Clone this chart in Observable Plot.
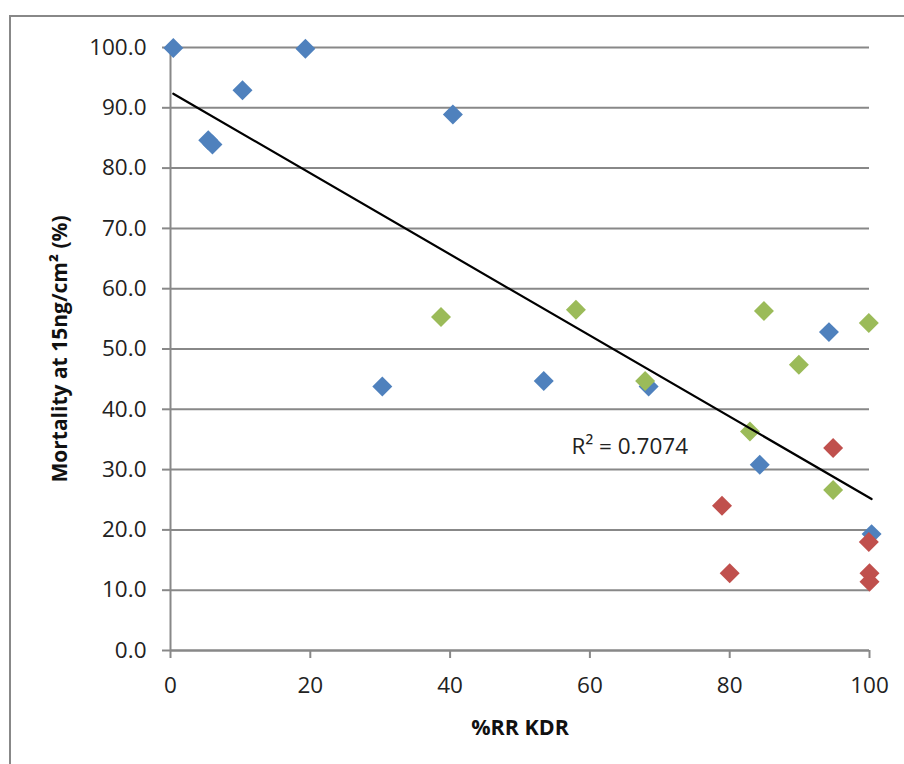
<!DOCTYPE html>
<html><head><meta charset="utf-8">
<script src="https://cdn.jsdelivr.net/npm/d3@7"></script>
<script src="https://cdn.jsdelivr.net/npm/@observablehq/plot@0.6"></script>
<style>
html,body{margin:0;padding:0;background:#fff;overflow:hidden;}
#wrap{position:relative;width:904px;height:764px;}
#chart{position:absolute;left:0;top:0;}
#frame{position:absolute;left:9px;top:15px;width:960px;height:800px;border-left:2px solid #888;border-top:2px solid #888;pointer-events:none;}
</style></head><body>
<div id="wrap"><div id="chart"></div><div id="frame"></div></div>
<script>
// Series: %RR KDR (x) vs mortality (y)
const blueX = [0.4, 5.4, 6.0, 10.3, 19.3, 40.4, 30.3, 53.4, 68.4, 84.3, 94.2, 100.3];
const blueY = [99.9, 84.6, 83.9, 92.9, 99.8, 88.9, 43.8, 44.7, 43.8, 30.8, 52.8, 19.3];
const redX = [78.9, 80.0, 94.8, 99.9, 100.0, 100.0];
const redY = [24.0, 12.8, 33.6, 18.0, 12.8, 11.4];
const greenX = [38.7, 58.0, 67.9, 82.9, 84.9, 89.9, 99.9, 94.8];
const greenY = [55.3, 56.5, 44.7, 36.3, 56.3, 47.4, 54.3, 26.6];
const yTicks = [0, 10, 20, 30, 40, 50, 60, 70, 80, 90, 100];
const xTicks = [0, 20, 40, 60, 80, 100];
const xTitle = "%RR KDR";
const yTitle = "Mortality at 15ng/cm² (%)";
const rLabel = ["R² = 0.7074"];
const rLabelX = [65.7];
const rLabelY = [33.8];

const colors = {blue: "#4F81BD", red: "#C0504D", green: "#9BBB59"};
const mk = (xs, ys, s) => xs.map((x, i) => ({x, y: ys[i], s}));
const blue = mk(blueX, blueY, "blue");
const red = mk(redX, redY, "red");
const green = mk(greenX, greenY, "green");
const all = [...blue, ...red, ...green];
const rData = rLabel.map((t, i) => ({t, x: rLabelX[i], y: rLabelY[i]}));

const gridColor = "#888";
const chart = Plot.plot({
  width: 904,
  height: 764,
  marginLeft: 170,
  marginRight: 35,
  marginTop: 47,
  marginBottom: 114,
  style: {background: "transparent", fontFamily: "'Open Sans', sans-serif", color: "#222"},
  x: {domain: [0, 100]},
  y: {domain: [0, 100]},
  marks: [
    Plot.gridY(yTicks, {stroke: gridColor, strokeOpacity: 1, strokeWidth: 2}),
    Plot.ruleX([0], {stroke: gridColor, strokeWidth: 2}),
    Plot.axisY(yTicks, {tickSize: 8, tickPadding: 16, stroke: gridColor, strokeWidth: 2, strokeOpacity: 1,
      tickFormat: d3.format(".1f"), fontSize: 22.5, fill: "#222", label: null}),
    Plot.axisY([], {label: yTitle, labelAnchor: "center", labelOffset: 118, labelArrow: "none", fontSize: 21, fill: "#111"}),
    Plot.axisX(xTicks, {tickSize: 8, tickPadding: 19, stroke: gridColor, strokeWidth: 2, strokeOpacity: 1,
      tickFormat: d3.format("d"), fontSize: 22.5, fill: "#222", label: null}),
    Plot.axisX([], {label: xTitle, labelAnchor: "center", labelOffset: 84, labelArrow: "none", fontSize: 21.5, fill: "#111"}),
    Plot.ruleY([0], {stroke: gridColor, strokeWidth: 2}),
    Plot.dot(blue, {x: "x", y: "y", symbol: "diamond2", r: 9, fill: colors.blue}),
    Plot.dot(red, {x: "x", y: "y", symbol: "diamond2", r: 9, fill: colors.red}),
    Plot.dot(green, {x: "x", y: "y", symbol: "diamond2", r: 9, fill: colors.green}),
    Plot.linearRegressionY(all, {x: "x", y: "y", stroke: "#000", strokeWidth: 2.2, ci: 0}),
    Plot.text(rData, {x: "x", y: "y", text: "t", fontSize: 22.5, fill: "#222", textAnchor: "middle"})
  ]
});
document.getElementById("chart").appendChild(chart);
d3.select(chart).selectAll('[aria-label="y-axis label"], [aria-label="x-axis label"]').attr("font-weight", "bold");
</script>
</body></html>
